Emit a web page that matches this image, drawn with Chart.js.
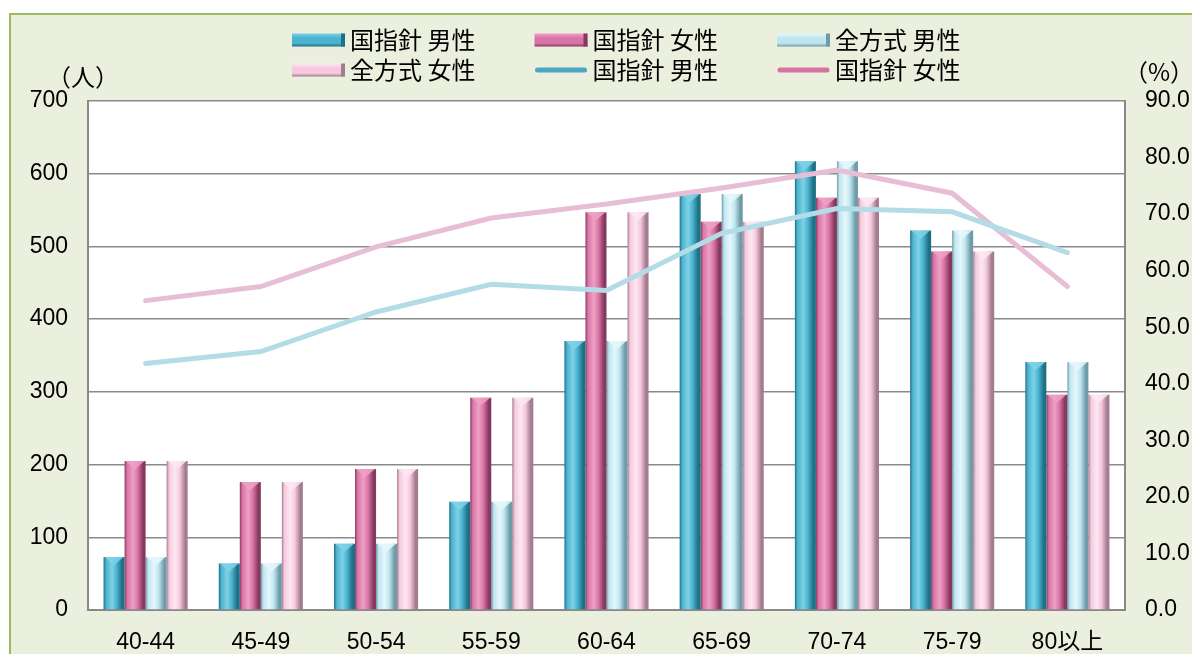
<!DOCTYPE html>
<html>
<head>
<meta charset="utf-8">
<script src="https://cdn.jsdelivr.net/npm/chart.js@4/dist/chart.umd.min.js"></script>
<style>
  html, body { margin: 0; padding: 0; background: #fff; }
  #wrap { position: relative; width: 1192px; height: 654px; overflow: hidden; }
  #frame { position: absolute; left: 9px; top: 13px; width: 1200px; height: 660px;
           border: 2px solid #9bbb59; background: #ebefdd; }
  canvas { position: absolute; left: 0; top: 0; }
</style>
</head>
<body>
<div id="wrap">
  <div id="frame"></div>
  <canvas id="ageChart" width="1192" height="654"></canvas>
</div>
<script>
// categories and values
const ageGroups = ["40-44", "45-49", "50-54", "55-59", "60-64", "65-69", "70-74", "75-79", "80以上"];
const kokuMen = [73, 64, 91, 149, 370, 572, 617, 522, 341];
const kokuWomen = [205, 176, 194, 292, 547, 534, 567, 493, 296];
const zenMen = [73, 64, 91, 149, 370, 572, 617, 522, 341];
const zenWomen = [205, 176, 194, 292, 547, 534, 567, 493, 296];
const rateMen = [43.6, 45.7, 52.7, 57.6, 56.5, 66.6, 71.0, 70.4, 63.2];
const rateWomen = [54.7, 57.2, 64.2, 69.3, 71.8, 74.6, 77.8, 73.7, 57.2];
const leftTicks = [0, 700, 100];
const rightTicks = [0, 90, 10];

const catPct = 0.73;
const numFont = '"Liberation Sans", "Noto Sans CJK JP", sans-serif';
const jpFont = '"Noto Sans CJK JP", "Liberation Sans", sans-serif';

// shades: [dark edge, base, highlight]
const tealShade = ["#1f6f85", "#4bb3cf", "#7fd2e6"];
const pinkShade = ["#86395f", "#d975a6", "#eea0c6"];
const lightBlueShade = ["#6f9ba7", "#bfe6f0", "#e6f7fb"];
const lightPinkShade = ["#a47c8f", "#f6c9de", "#fde8f1"];

// horizontal gradient across each bar so it looks rounded
function barFill(shade, slot) {
  return function (ctx) {
    const chart = ctx.chart;
    const x = chart.scales.x;
    if (!x || !x.width || ctx.type !== "data") return shade[1];
    const cat = x.width / ageGroups.length;
    const bw = (cat * catPct) / 4;
    const left = x.getPixelForValue(ctx.dataIndex) - bw * 2 + slot * bw;
    const g = chart.ctx.createLinearGradient(left, 0, left + bw, 0);
    g.addColorStop(0, shade[0]);
    g.addColorStop(0.12, shade[1]);
    g.addColorStop(0.4, shade[2]);
    g.addColorStop(0.62, shade[1]);
    g.addColorStop(0.88, shade[0]);
    g.addColorStop(1, shade[0]);
    return g;
  };
}

const plotBackground = {
  id: "plotBackground",
  beforeDraw(chart) {
    const { ctx, chartArea: a } = chart;
    ctx.save();
    ctx.fillStyle = "#ffffff";
    ctx.fillRect(a.left, a.top, a.right - a.left, a.bottom - a.top);
    ctx.restore();
  },
};

// light bevel on top of every bar, taken from the bar elements
const barBevel = {
  id: "barBevel",
  afterDatasetDraw(chart, args) {
    const ds = chart.data.datasets[args.index];
    if (ds.type === "line") return;
    const c = chart.ctx;
    c.save();
    args.meta.data.forEach((bar) => {
      const half = bar.width / 2;
      c.fillStyle = ds.shade[2];
      c.globalAlpha = 0.85;
      c.beginPath();
      c.moveTo(bar.x - half + 1, bar.y);
      c.lineTo(bar.x + half - 1, bar.y);
      c.lineTo(bar.x, bar.y + 8);
      c.closePath();
      c.fill();
    });
    c.restore();
  },
};

const legendAndTitles = {
  id: "legendAndTitles",
  afterDraw(chart) {
    const c = chart.ctx;
    c.save();
    c.font = "24px " + jpFont;
    c.textBaseline = "middle";
    chart.data.datasets.forEach((ds, i) => {
      const x = 292 + (i % 3) * 242.5;
      const y = 40 + Math.floor(i / 3) * 30;
      if (ds.type === "line") {
        c.strokeStyle = ds.legendColor;
        c.lineWidth = 5;
        c.lineCap = "round";
        c.beginPath();
        c.moveTo(x + 3, y);
        c.lineTo(x + 50, y);
        c.stroke();
      } else {
        const s = ds.shade;
        const g = c.createLinearGradient(0, y - 6.5, 0, y + 6.5);
        g.addColorStop(0, s[2]);
        g.addColorStop(0.35, s[1]);
        g.addColorStop(0.75, s[1]);
        g.addColorStop(1, s[0]);
        c.fillStyle = g;
        c.fillRect(x, y - 6.5, 53, 13);
        c.fillStyle = s[0];
        c.fillRect(x + 49, y - 6.5, 4, 13);
      }
      c.fillStyle = "#000";
      c.textAlign = "left";
      c.fillText(ds.label, x + 58, y);
    });
    c.textAlign = "center";
    c.fillText("（人）", 83, 77);
    c.fillText("（%）", 1159, 72);
    c.restore();
  },
};

new Chart(document.getElementById("ageChart").getContext("2d"), {
  type: "bar",
  data: {
    labels: ageGroups,
    datasets: [
      { label: "国指針 男性", data: kokuMen, shade: tealShade, backgroundColor: barFill(tealShade, 0), order: 1 },
      { label: "国指針 女性", data: kokuWomen, shade: pinkShade, backgroundColor: barFill(pinkShade, 1), order: 1 },
      { label: "全方式 男性", data: zenMen, shade: lightBlueShade, backgroundColor: barFill(lightBlueShade, 2), order: 1 },
      { label: "全方式 女性", data: zenWomen, shade: lightPinkShade, backgroundColor: barFill(lightPinkShade, 3), order: 1 },
      {
        type: "line",
        label: "国指針 男性",
        data: rateMen,
        yAxisID: "y1",
        borderColor: "#b3dce7",
        legendColor: "#4aa8c3",
        borderWidth: 5,
        borderCapStyle: "round",
        pointRadius: 0,
        tension: 0,
        order: 0,
      },
      {
        type: "line",
        label: "国指針 女性",
        data: rateWomen,
        yAxisID: "y1",
        borderColor: "#e8bed4",
        legendColor: "#d673a1",
        borderWidth: 5,
        borderCapStyle: "round",
        pointRadius: 0,
        tension: 0,
        order: 0,
      },
    ],
  },
  options: {
    responsive: false,
    animation: false,
    categoryPercentage: catPct,
    barPercentage: 1,
    layout: { padding: { top: 101, left: 30, right: 3, bottom: 0 } },
    plugins: {
      legend: { display: false },
      title: { display: false },
      tooltip: { enabled: false },
    },
    scales: {
      x: {
        grid: { display: false, drawTicks: false },
        border: { display: true, color: "#888888", width: 2 },
        ticks: { color: "#000", padding: 19, font: { size: 23, family: numFont } },
        afterFit: (scale) => { scale.height = 44; },
      },
      y: {
        position: "left",
        min: leftTicks[0],
        max: leftTicks[1],
        ticks: { stepSize: leftTicks[2], color: "#000", padding: 20, font: { size: 23, family: numFont } },
        grid: { color: "#8a8a8a", lineWidth: 1.5, drawTicks: false },
        border: { display: true, color: "#888888", width: 2 },
        afterFit: (scale) => { scale.width = 58; },
      },
      y1: {
        position: "right",
        min: rightTicks[0],
        max: rightTicks[1],
        ticks: {
          stepSize: rightTicks[2],
          color: "#000",
          padding: 20,
          font: { size: 23, family: numFont },
          callback: (v) => v.toFixed(1),
        },
        grid: { display: false, drawTicks: false },
        border: { display: true, color: "#888888", width: 2 },
        afterFit: (scale) => { scale.width = 64; },
      },
    },
  },
  plugins: [plotBackground, barBevel, legendAndTitles],
});
</script>
</body>
</html>
